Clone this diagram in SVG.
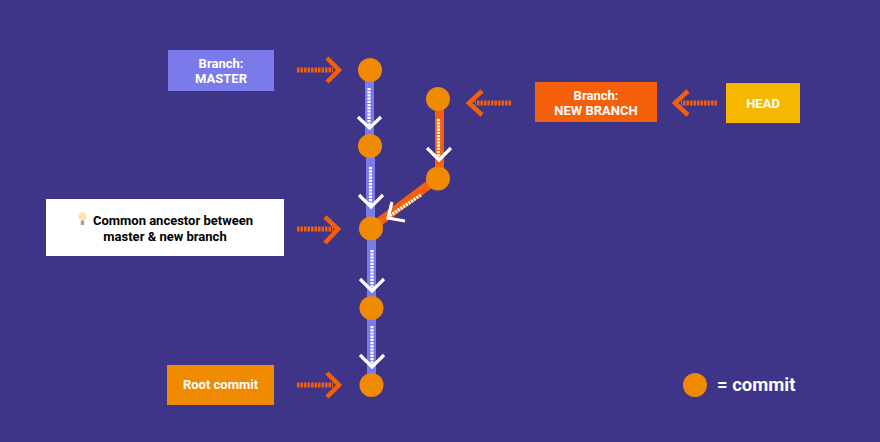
<svg xmlns="http://www.w3.org/2000/svg" width="880" height="442" viewBox="0 0 880 442">
<defs>
<style>
.lbl{font-family:Roboto,"Liberation Sans",sans-serif;font-weight:700;font-size:13px;text-anchor:middle}
.w{fill:#fff}
.k{fill:#000}
.c{fill:#f08a00}
.dash{fill:none;stroke:#f4600a;stroke-width:5;stroke-dasharray:2.500 1}
.chev{fill:none;stroke:#f4600a;stroke-width:4.500}
.blue{stroke:#7a7aeb;stroke-width:9;fill:none}
.org{stroke:#f4600a;stroke-width:9;fill:none}
.dots{fill:none;stroke:#fff;stroke-width:3.200;stroke-dasharray:2.200 1}
.wchev{fill:none;stroke:#fff;stroke-width:3.200}
</style>
</defs>
<rect width="880" height="442" fill="#3e3589"/>
<g id="connectors">
<path class="blue" d="M369.500 70V146"/>
<path class="blue" d="M370.500 146V228"/>
<path class="blue" d="M371.500 228V308"/>
<path class="blue" d="M371.500 308V385"/>
<path class="org" d="M439.500 99V178"/>
<path class="org" d="M438 178L371 228"/>
<path class="dots" d="M369 88V128"/>
<path class="wchev" d="M358 117L369.500 128L381 117"/>
<path class="dots" d="M370.500 167V207"/>
<path class="wchev" d="M359 195L371 207L383 195"/>
<path class="dots" d="M372 250V290"/>
<path class="wchev" d="M360 279L372 291L384 279"/>
<path class="dots" d="M372 326V366"/>
<path class="wchev" d="M360 355L372 367L384 355"/>
<path class="dots" d="M438.500 119V159"/>
<path class="wchev" d="M427 148L439 160L451 148"/>
<path class="dots" d="M421 195L388 217"/>
<path class="wchev" d="M392 202L388 218L405 221"/>
<path class="dash" d="M297 70H333"/>
<path class="chev" d="M327 58L339 70L327 82"/>
<path class="dash" d="M297 229H333"/>
<path class="chev" d="M325 217L338 229L325 243"/>
<path class="dash" d="M297 385H333"/>
<path class="chev" d="M327 373L339 385L327 397"/>
<path class="dash" d="M511 103H475"/>
<path class="chev" d="M482 91L469 103L482 115"/>
<path class="dash" d="M717 103H681"/>
<path class="chev" d="M688 91L675 103L688 115"/>
</g>
<g id="node-master-label"><rect x="168" y="50" width="106" height="41" fill="#7a7aeb"/><text class="lbl w" x="221" y="68">Branch:</text><text class="lbl w" x="221" y="83">MASTER</text></g>
<g id="node-new-branch-label"><rect x="535" y="82" width="122" height="40" fill="#f4600a"/><text class="lbl w" x="596" y="100">Branch:</text><text class="lbl w" x="596" y="115">NEW BRANCH</text></g>
<g id="node-head"><rect x="726" y="83" width="74" height="40" fill="#f5b700"/><text class="lbl w" x="763" y="108">HEAD</text></g>
<g id="node-ancestor-label"><rect x="46" y="199" width="238" height="57" fill="#fff"/>
<circle cx="82.500" cy="216.500" r="4.200" fill="#fde3b0"/><rect x="80.800" y="220.500" width="3.400" height="4.500" fill="#a0a0aa"/>
<text class="lbl k" x="173" y="225">Common ancestor between</text><text class="lbl k" x="165" y="241">master &amp; new branch</text></g>
<g id="node-root-label"><rect x="167" y="365" width="107" height="40" fill="#f08a00"/><text class="lbl w" x="220.500" y="389">Root commit</text></g>
<g id="node-c1"><circle class="c" cx="370" cy="70" r="12"/></g>
<g id="node-c2"><circle class="c" cx="370" cy="146" r="12"/></g>
<g id="node-c3"><circle class="c" cx="371" cy="228.500" r="12"/></g>
<g id="node-c4"><circle class="c" cx="371.500" cy="308" r="12"/></g>
<g id="node-c5"><circle class="c" cx="371.500" cy="385" r="12"/></g>
<g id="node-b1"><circle class="c" cx="438" cy="99" r="12"/></g>
<g id="node-b2"><circle class="c" cx="438" cy="178.500" r="12"/></g>
<g id="legend"><circle class="c" cx="695" cy="385" r="12"/><text x="717" y="391" font-family="Roboto,'Liberation Sans',sans-serif" font-weight="700" font-size="18.500" fill="#fff">= commit</text></g>
</svg>
